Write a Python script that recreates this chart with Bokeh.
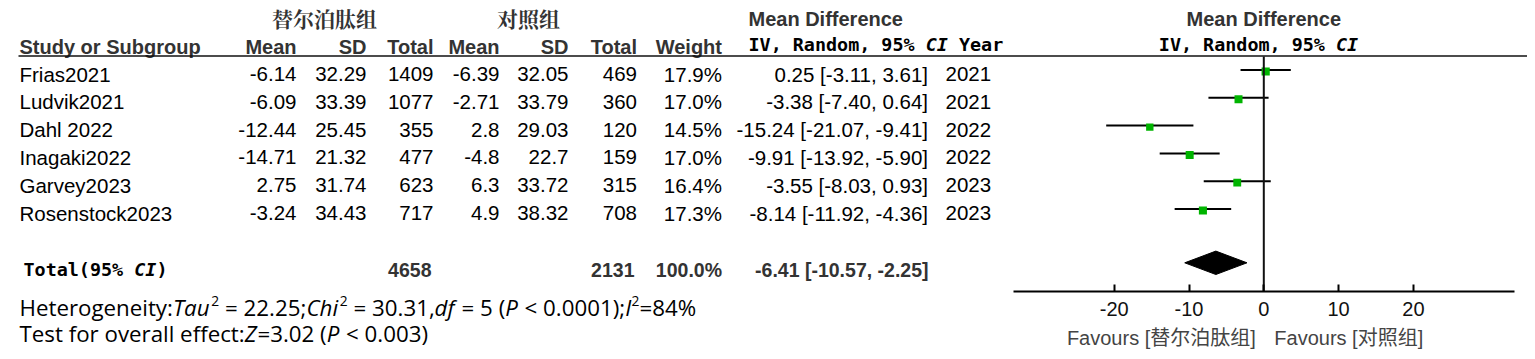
from bokeh.plotting import figure
from bokeh.models import Range1d, LinearAxis, FixedTicker
from bokeh.core.properties import value
from bokeh.embed import file_html
from bokeh.resources import INLINE

# ---------------- data ----------------
studies = ["Frias2021", "Ludvik2021", "Dahl 2022", "Inagaki2022", "Garvey2023", "Rosenstock2023"]
exp_mean = ["-6.14", "-6.09", "-12.44", "-14.71", "2.75", "-3.24"]
exp_sd = ["32.29", "33.39", "25.45", "21.32", "31.74", "34.43"]
exp_n = [1409, 1077, 355, 477, 623, 717]
ctl_mean = ["-6.39", "-2.71", "2.8", "-4.8", "6.3", "4.9"]
ctl_sd = ["32.05", "33.79", "29.03", "22.7", "33.72", "38.32"]
ctl_n = [469, 360, 120, 159, 315, 708]
weight = [17.9, 17.0, 14.5, 17.0, 16.4, 17.3]
md = [0.25, -3.38, -15.24, -9.91, -3.55, -8.14]
md_lo = [-3.11, -7.40, -21.07, -13.92, -8.03, -11.92]
md_hi = [3.61, 0.64, -9.41, -5.90, 0.93, -4.36]
year = [2021, 2021, 2022, 2022, 2023, 2023]

total_exp_n = 4658
total_ctl_n = 2131
total_weight = 100.0
total_md, total_lo, total_hi = -6.41, -10.57, -2.25

tau2, chi2, df_het, p_het, i2 = "22.25", "30.31", "5", "0.0001", "84"
z_val, p_overall = "3.02", "0.003"

exp_label = "替尔泊肽组"
ctl_label = "对照组"
ticks = [-20, -10, 0, 10, 20]
tick_labels = ["-20", "-10", "0", "10", "20"]
axis_limits = (-33.5, 33.5)

# ---------------- layout ----------------
W, H = 1527, 351
OX, OY = 0, 0
ZERO_PX = 1263.3
PX_PER_UNIT = 7.48
ROW0_PX = 71.0
ROW_H = 27.8
TEXT_DY = 2.5

SANS = "Liberation Sans"
MONO = "DejaVu Sans Mono"
OPEN = "Open Sans"
CJK_SERIF = "'Noto Serif CJK SC', 'Noto Sans CJK SC'"
MIX = "'Liberation Sans', 'Noto Sans CJK SC'"


def row_of(py):
    return (py - ROW0_PX) / ROW_H


p = figure(width=W, height=H,
           x_range=Range1d((OX - ZERO_PX) / PX_PER_UNIT, (OX + W - ZERO_PX) / PX_PER_UNIT),
           y_range=Range1d(row_of(OY + H), row_of(OY)),
           output_backend="svg", toolbar_location=None, min_border=0,
           outline_line_color=None, x_axis_location=None, y_axis_location=None)
p.grid.grid_line_color = None
p.background_fill_color = "white"
p.border_fill_color = "white"
p.extra_x_ranges = {"px": Range1d(OX, OX + W)}
p.extra_y_ranges = {"py": Range1d(OY + H, OY)}


def put(xs, ys, texts, font=SANS, size="20px", style="normal", color="#000",
        align="left", xr="px", yr="py", **kw):
    p.text(x=xs, y=ys, text=texts, x_range_name=xr, y_range_name=yr,
           text_font=value(font), text_font_size=size, text_font_style=style,
           text_color=color, text_align=align, text_baseline="middle", **kw)


# ---------------- headers ----------------
HDR = "#333333"
put([324], [17], [exp_label], font=CJK_SERIF, size="21px", style="bold", color=HDR, align="center")
put([528], [17], [ctl_label], font=CJK_SERIF, size="21px", style="bold", color=HDR, align="center")
put([748], [18.5], ["Mean Difference"], style="bold", color=HDR)
put([0], [18.5], ["Mean Difference"], style="bold", color=HDR, align="center", xr="default")

H2 = 46
put([19], [H2], ["Study or Subgroup"], style="bold", color=HDR)
put([296, 366, 433, 499, 568, 636.5, 721.5], [H2] * 7,
    ["Mean", "SD", "Total", "Mean", "SD", "Total", "Weight"],
    style="bold", color=HDR, align="right")

MONO_SIZE = 18.4
CW = 0.602 * MONO_SIZE
HM = 44
x0 = 748
put([x0], [HM], ["IV, Random, 95%"], font=MONO, size=f"{MONO_SIZE}px", style="bold")
put([x0 + 16 * CW], [HM], ["CI"], font=MONO, size=f"{MONO_SIZE}px", style="bold italic")
put([x0 + 19 * CW], [HM], ["Year"], font=MONO, size=f"{MONO_SIZE}px", style="bold")
x0 = 1258 - 9 * CW
put([x0], [HM], ["IV, Random, 95%"], font=MONO, size=f"{MONO_SIZE}px", style="bold")
put([x0 + 16 * CW], [HM], ["CI"], font=MONO, size=f"{MONO_SIZE}px", style="bold italic")

p.segment(x0=[18], x1=[OX + W], y0=[55.5], y1=[55.5], x_range_name="px",
          y_range_name="py", line_width=1.6, line_color="#111111")

# ---------------- body ----------------
n = len(studies)
ty = [ROW0_PX + TEXT_DY + ROW_H * i for i in range(n)]
BS = "20.5px"
put([19] * n, ty, studies, size=BS)
put([296] * n, ty, exp_mean, align="right", size=BS)
put([366] * n, ty, exp_sd, align="right", size=BS)
put([433] * n, ty, [str(v) for v in exp_n], align="right", size=BS)
put([499] * n, ty, ctl_mean, align="right", size=BS)
put([568] * n, ty, ctl_sd, align="right", size=BS)
put([636.5] * n, ty, [str(v) for v in ctl_n], align="right", size=BS)
put([721.5] * n, ty, [f"{w:.1f}%" for w in weight], align="right", size=BS)
put([927.5] * n, ty, [f"{m:.2f} [{a:.2f}, {b:.2f}]" for m, a, b in zip(md, md_lo, md_hi)],
    align="right", size=BS)
put([945] * n, ty, [str(y) for y in year], size=BS)

# ---------------- total row ----------------
TY = 269
put([23], [TY], ["Total(95%"], font=MONO, size=f"{MONO_SIZE}px", style="bold")
put([23 + 10 * CW], [TY], ["CI"], font=MONO, size=f"{MONO_SIZE}px", style="bold italic")
put([23 + 12 * CW], [TY], [")"], font=MONO, size=f"{MONO_SIZE}px", style="bold")
put([431, 634, 721.5, 928], [TY] * 4,
    [str(total_exp_n), str(total_ctl_n), f"{total_weight:.1f}%",
     f"{total_md:.2f} [{total_lo:.2f}, {total_hi:.2f}]"],
    style="bold", color=HDR, align="right", size="19.5px")

# ---------------- heterogeneity / overall ----------------
OW = {' ': .26, '(': .297, ')': .297, ',': .245, '.': .266, ':': .266, ';': .266,
      '<': .572, '=': .572, '%': .818, 'C': .631, 'H': .738, 'I': .279, 'P': .603,
      'T': .55, 'Z': .565, 'a': .556, 'c': .476, 'd': .613, 'e': .561, 'f': .339,
      'g': .548, 'h': .614, 'i': .253, 'l': .253, 'n': .614, 'o': .604, 'r': .408,
      's': .477, 't': .353, 'u': .614, 'v': .501, 'y': .5}


def wem(s):
    return sum(OW.get(c, .572) for c in s)


def line_parts(x, y, parts, size):
    for s, kind in parts:
        lead = len(s) - len(s.lstrip(" "))
        if kind == "sup":
            ss = size * 0.62
            put([x], [y - size * 0.3], [s], font=OPEN, size=f"{ss:.1f}px")
            x += wem(s) * ss
        else:
            x += lead * OW[' '] * size
            body = s.lstrip(" ")
            put([x], [y], [body], font=OPEN, size=f"{size}px",
                style="italic" if kind == "it" else "normal")
            x += wem(body) * size


FS = 22.3
line_parts(19, 307, [("Heterogeneity:", "n"), ("Tau", "it"), ("2", "sup"),
                     (f" = {tau2};", "n"), ("Chi", "it"), ("2", "sup"),
                     (f" = {chi2},", "n"), ("df", "it"), (f" = {df_het} (", "n"),
                     ("P", "it"), (f" < {p_het});", "n"), ("I", "it"), ("2", "sup"),
                     (f"={i2}%", "n")], FS)
line_parts(19, 333, [("Test for overall effect:", "n"), ("Z", "it"),
                     (f"={z_val} (", "n"), ("P", "it"), (f" < {p_overall})", "n")], FS)

# ---------------- forest ----------------
rows = list(range(n))
p.segment(x0=md_lo, x1=md_hi, y0=[r - 1.5 / ROW_H for r in rows],
          y1=[r - 1.5 / ROW_H for r in rows], line_color="black", line_width=2)
p.scatter(x=md, y=rows, marker="square", size=[8.2 * (w / 17.9) ** 0.5 for w in weight],
          fill_color="#00b400", line_color=None)

yc = row_of(262.3)
hh = 11.7 / ROW_H
p.patch(x=[total_lo, total_md, total_hi, total_md], y=[yc, yc - hh, yc, yc + hh],
        fill_color="black", line_color="black")

AXIS_PY = 290.7
p.segment(x0=[0], x1=[0], y0=[56], y1=[AXIS_PY], y_range_name="py",
          line_color="#111111", line_width=2)

ax = LinearAxis(fixed_location=row_of(AXIS_PY), ticker=FixedTicker(ticks=ticks),
                bounds=axis_limits, major_tick_in=7, major_tick_out=0,
                minor_tick_line_color=None, axis_line_width=2, axis_line_color="black",
                major_tick_line_width=2, major_tick_line_color="black",
                major_label_text_font=SANS, major_label_text_font_size="20px",
                major_label_text_color="#111111", major_label_standoff=11,
                major_label_overrides=dict(zip(ticks, tick_labels)))
p.add_layout(ax, "below")

put([0], [337], ["Favours [" + exp_label + "]"], font=MIX, color="#444444",
    align="right", xr="default", x_offset=-8)
put([0], [337], ["Favours [" + ctl_label + "]"], font=MIX, color="#444444",
    align="left", xr="default", x_offset=10.5)

open("out.html", "w").write(file_html(p, INLINE, title="Forest plot"))
